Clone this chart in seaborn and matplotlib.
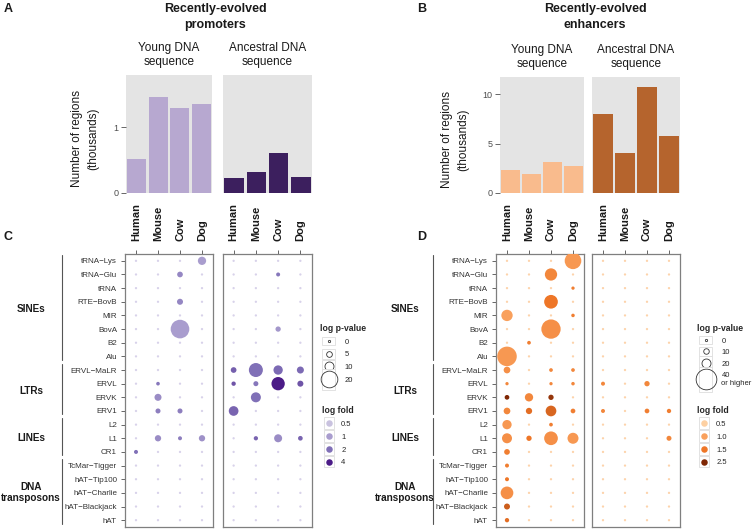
import numpy as np
import pandas as pd
import matplotlib
matplotlib.use("Agg")
import matplotlib.pyplot as plt
import matplotlib.transforms as mtransforms
from matplotlib.colors import LinearSegmentedColormap, LogNorm, Normalize
from matplotlib.lines import Line2D
from matplotlib.patches import Rectangle
from matplotlib.legend_handler import HandlerBase
import seaborn as sns

sns.set_style("white")
plt.rcParams["font.family"] = ["Liberation Sans", "DejaVu Sans"]

# ---------------- data ----------------
species = ["Human", "Mouse", "Cow", "Dog"]

# bar panels (thousands of regions)
prom_young = [0.52, 1.46, 1.29, 1.35]
prom_ancestral = [0.22, 0.32, 0.61, 0.25]
enh_young = [2.30, 1.95, 3.13, 2.76]
enh_ancestral = [7.98, 4.04, 10.78, 5.76]

families = ["tRNA−Lys", "tRNA−Glu", "tRNA", "RTE−BovB", "MIR", "BovA", "B2", "Alu",
            "ERVL−MaLR", "ERVL", "ERVK", "ERV1",
            "L2", "L1", "CR1",
            "TcMar−Tigger", "hAT−Tip100", "hAT−Charlie", "hAT−Blackjack", "hAT"]
group_names = ["SINEs", "LTRs", "LINEs", "DNA\ntransposons"]
group_sizes = [8, 4, 3, 5]

# promoters, young DNA: log p-value / log fold  (rows = families, cols = species)
prom_young_logp = [
    [0, 0, 0, 8.9], [0, 0, 5.0, 0], [0, 0, 0, 0], [0, 0, 5.5, 0], [0, 0, 0, 0],
    [0, 0, 22.5, 0], [0, 0, 0, 0], [0, 0, 0, 0],
    [0, 0, 0, 0], [0, 2.0, 0, 0], [0, 7.0, 0, 0], [0, 4.0, 4.0, 0],
    [0, 0, 0, 0], [0, 5.9, 2.5, 5.9], [2.5, 0, 0, 0],
    [0, 0, 0, 0], [0, 0, 0, 0], [0, 0, 0, 0], [0, 0, 0, 0], [0, 0, 0, 0]]
prom_young_fold = [
    [0.4, 0.4, 0.4, 1.0], [0.4, 0.4, 1.4, 0.4], [0.4, 0.4, 0.4, 0.4], [0.4, 0.4, 1.4, 0.4], [0.4, 0.4, 0.4, 0.4],
    [0.4, 0.4, 1.0, 0.4], [0.4, 0.4, 0.4, 0.4], [0.4, 0.4, 0.4, 0.4],
    [0.4, 0.4, 0.4, 0.4], [0.4, 1.8, 0.4, 0.4], [0.4, 1.3, 0.4, 0.4], [0.4, 1.6, 1.6, 0.4],
    [0.4, 0.4, 0.4, 0.4], [0.4, 1.3, 1.6, 1.2], [2.0, 0.4, 0.4, 0.4],
    [0.4, 0.4, 0.4, 0.4], [0.4, 0.4, 0.4, 0.4], [0.4, 0.4, 0.4, 0.4], [0.4, 0.4, 0.4, 0.4], [0.4, 0.4, 0.4, 0.4]]

# promoters, ancestral DNA
prom_anc_logp = [
    [0, 0, 0, 0], [0, 0, 2.5, 0], [0, 0, 0, 0], [0, 0, 0, 0], [0, 0, 0, 0],
    [0, 0, 4.4, 0], [0, 0, 0, 0], [0, 0, 0, 0],
    [5.0, 16.5, 10.4, 7.0], [3.0, 4.0, 15.6, 5.5], [0, 11.3, 0, 0], [10.9, 0, 0, 0],
    [0, 0, 0, 0], [0, 2.9, 8.5, 3.5], [0, 0, 0, 0],
    [0, 0, 0, 0], [0, 0, 0, 0], [0, 0, 0, 0], [0, 0, 0, 0], [0, 0, 0, 0]]
prom_anc_fold = [
    [0.4, 0.4, 0.4, 0.4], [0.4, 0.4, 1.8, 0.4], [0.4, 0.4, 0.4, 0.4], [0.4, 0.4, 0.4, 0.4], [0.4, 0.4, 0.4, 0.4],
    [0.4, 0.4, 1.1, 0.4], [0.4, 0.4, 0.4, 0.4], [0.4, 0.4, 0.4, 0.4],
    [2.3, 2.0, 2.1, 2.1], [2.5, 1.8, 4.0, 2.5], [0.4, 2.0, 0.4, 0.4], [2.2, 0.4, 0.4, 0.4],
    [0.4, 0.4, 0.4, 0.4], [0.4, 2.2, 1.3, 2.2], [0.4, 0.4, 0.4, 0.4],
    [0.4, 0.4, 0.4, 0.4], [0.4, 0.4, 0.4, 0.4], [0.4, 0.4, 0.4, 0.4], [0.4, 0.4, 0.4, 0.4], [0.4, 0.4, 0.4, 0.4]]

# enhancers, young DNA
enh_young_logp = [
    [0, 0, 0, 33.0], [0, 0, 25.6, 0], [0, 0, 0, 3.1], [0, 0, 28.0, 0], [24.0, 0, 0, 3.8],
    [0, 0, 37.6, 0], [0, 4.4, 0, 0], [38.0, 0, 0, 0],
    [13.4, 0, 4.4, 4.4], [3.1, 0, 3.1, 3.8], [7.5, 18.0, 9.4, 0], [13.4, 12.3, 22.9, 7.5],
    [20.5, 0, 4.4, 0], [21.7, 9.4, 28.0, 23.4], [10.6, 0, 0, 0],
    [5.3, 0, 0, 0], [5.3, 0, 0, 0], [26.3, 0, 0, 0], [11.4, 0, 0, 0], [6.3, 0, 0, 0]]
enh_young_fold = [
    [0.4, 0.4, 0.4, 1.1], [0.4, 0.4, 1.3, 0.4], [0.4, 0.4, 0.4, 1.4], [0.4, 0.4, 1.5, 0.4], [1.0, 0.4, 0.4, 1.4],
    [0.4, 0.4, 1.2, 0.4], [0.4, 1.4, 0.4, 0.4], [1.1, 0.4, 0.4, 0.4],
    [1.2, 0.4, 1.3, 1.3], [1.3, 0.4, 1.3, 1.3], [2.5, 1.3, 2.3, 0.4], [1.3, 1.6, 1.7, 1.4],
    [1.1, 0.4, 1.4, 0.4], [1.2, 1.5, 1.2, 1.1], [1.4, 0.4, 0.4, 0.4],
    [1.4, 0.4, 0.4, 0.4], [1.5, 0.4, 0.4, 0.4], [1.2, 0.4, 0.4, 0.4], [1.8, 0.4, 0.4, 0.4], [1.6, 0.4, 0.4, 0.4]]

# enhancers, ancestral DNA
enh_anc_logp = [
    [0, 0, 0, 0], [0, 0, 0, 0], [0, 0, 0, 0], [0, 0, 0, 0], [0, 0, 0, 0],
    [0, 0, 0, 0], [0, 0, 0, 0], [0, 0, 0, 0],
    [0, 0, 0, 0], [5.3, 0, 9.4, 0], [0, 0, 0, 0], [5.3, 0, 7.5, 6.3],
    [0, 0, 0, 0], [0, 0, 0, 8.4], [0, 0, 0, 0],
    [0, 0, 0, 0], [0, 0, 0, 0], [0, 0, 0, 0], [0, 0, 0, 0], [0, 0, 0, 0]]
enh_anc_fold = [
    [0.4, 0.4, 0.4, 0.4], [0.4, 0.4, 0.4, 0.4], [0.4, 0.4, 0.4, 0.4], [0.4, 0.4, 0.4, 0.4], [0.4, 0.4, 0.4, 0.4],
    [0.4, 0.4, 0.4, 0.4], [0.4, 0.4, 0.4, 0.4], [0.4, 0.4, 0.4, 0.4],
    [0.4, 0.4, 0.4, 0.4], [1.3, 0.4, 1.3, 0.4], [0.4, 0.4, 0.4, 0.4], [1.3, 0.4, 1.4, 1.4],
    [0.4, 0.4, 0.4, 0.4], [0.4, 0.4, 0.4, 1.3], [0.4, 0.4, 0.4, 0.4],
    [0.4, 0.4, 0.4, 0.4], [0.4, 0.4, 0.4, 0.4], [0.4, 0.4, 0.4, 0.4], [0.4, 0.4, 0.4, 0.4], [0.4, 0.4, 0.4, 0.4]]

# legend breaks
prom_p_breaks = [0, 5, 10, 20]
prom_p_labels = ["0", "5", "10", "20"]
prom_fold_breaks = [0.5, 1, 2, 4]
prom_fold_labels = ["0.5", "1", "2", "4"]
enh_p_breaks = [0, 10, 20, 40]
enh_p_labels = ["0", "10", "20", "40\nor higher"]
enh_fold_breaks = [0.5, 1.0, 1.5, 2.5]
enh_fold_labels = ["0.5", "1.0", "1.5", "2.5"]

# ---------------- style ----------------
W, H = 756, 529
PT = 0.72  # px -> pt at 100 dpi
fig = plt.figure(figsize=(W / 100, H / 100), dpi=100)
TXT = "#1a1a1a"
TICK = "#4d4d4d"

prom_light, prom_dark = "#b7a8d0", "#3c1f5e"
enh_light, enh_dark = "#f9bb8d", "#b5642d"

cmapC = LinearSegmentedColormap.from_list("prom", ["#c9c2df", "#a99dce", "#8070b7", "#4b1b87"])
cmapC.set_under("#d8d2ea")
normC = LogNorm(0.5, 4)
cmapD = LinearSegmentedColormap.from_list(
    "enh", [(0, "#fdd0a2"), (0.25, "#f9a05c"), (0.5, "#ee7627"), (1, "#7f2704")])
cmapD.set_under("#fdd3ab")
normD = Normalize(0.5, 2.5)

# size scales (log p-value -> dot diameter in px)
C_v, C_d = [0, 5, 10, 20], [2.3, 5.7, 9.0, 16.7]
D_v, D_d = [0, 10, 20, 40], [2.3, 5.5, 9.0, 20.7]


def diam(v, vp, dp, cap=None):
    if cap is not None:
        v = min(v, cap)
    if v > vp[-1]:
        slope = (dp[-1] - dp[-2]) / (vp[-1] - vp[-2])
        return dp[-1] + slope * (v - vp[-1])
    return float(np.interp(v, vp, dp))


def fax(x0, y0, x1, y1):
    return fig.add_axes([x0 / W, 1 - y1 / H, (x1 - x0) / W, (y1 - y0) / H])


def long_df(logp, fold):
    recs = []
    for fam, lrow, frow in zip(families, logp, fold):
        for sp, lp, fd in zip(species, lrow, frow):
            recs.append((sp, fam, float(lp), float(fd)))
    return pd.DataFrame(recs, columns=["species", "family", "logp", "fold"])


def bars(ax, vals, color, ymax, yticks, show_y, title):
    sns.barplot(x=species, y=vals, color=color, saturation=1, width=0.88,
                linewidth=0, ax=ax)
    ax.set_facecolor("#e4e4e4")
    ax.set_xlim(-0.5, 3.5)
    ax.set_ylim(0, ymax)
    for s in ax.spines.values():
        s.set_visible(False)
    ax.set_xticks([])
    ax.set_xlabel("")
    if show_y:
        ax.set_yticks(yticks)
        ax.tick_params(axis="y", length=3.5, width=0.6, color=TICK, labelsize=6.5,
                       labelcolor=TICK, pad=2, left=True)
    else:
        ax.set_yticks([])
    ax.set_title(title, fontsize=8.5, color=TXT, pad=7, linespacing=1.3)


def dots(ax, logp, fold, cmap, norm, vp, dp, cap, show_y):
    df = long_df(logp, fold)
    sizes = {v: (diam(v, vp, dp, cap) * PT) ** 2 for v in np.unique(df["logp"])}
    sns.scatterplot(data=df, x="species", y="family", size="logp", hue="fold",
                    sizes=sizes, palette=cmap, hue_norm=norm, legend=False,
                    linewidth=0, ax=ax, zorder=3)
    ax.set_xlim(-0.5, 3.5)
    ax.set_ylim(len(families) - 0.5, -0.5)
    ax.set_xlabel("")
    ax.set_ylabel("")
    for s in ax.spines.values():
        s.set_visible(True)
        s.set_color("#7f7f7f")
        s.set_linewidth(0.9)
    ax.xaxis.set_ticks_position("top")
    ax.tick_params(axis="x", top=True, bottom=False, labeltop=True, labelbottom=False,
                   length=3, width=0.6, color=TICK, pad=6, labelsize=8, labelcolor=TXT)
    for lab in ax.get_xticklabels():
        lab.set_rotation(90)
        lab.set_fontweight("bold")
        lab.set_va("bottom")
        lab.set_ha("center")
    if show_y:
        ax.tick_params(axis="y", left=True, length=3.2, width=0.6, color=TICK,
                       labelsize=5.8, labelcolor="#333333", pad=2.5)
    else:
        ax.tick_params(axis="y", left=False, labelleft=False)


def groups(ax, xline, xlabel):
    tr = mtransforms.blended_transform_factory(fig.transFigure, ax.transData)
    start = 0
    for name, n in zip(group_names, group_sizes):
        end = start + n - 1
        ax.plot([xline / W, xline / W], [start - 0.45, end + 0.25], transform=tr,
                color="#555555", lw=0.8, clip_on=False)
        ax.text(xlabel / W, (start + end) / 2, name, transform=tr, ha="center",
                va="center", fontsize=7.2, fontweight="bold", color=TXT, linespacing=1.15)
        start += n


class BoxedKey(HandlerBase):
    """Legend key drawn as a light-grey box with a circle in it (ggplot style)."""

    def __init__(self, box_w, box_h):
        super().__init__()
        self.box_w, self.box_h = box_w, box_h

    def create_artists(self, legend, orig_handle, xdescent, ydescent, width, height,
                       fontsize, trans):
        cx = width / 2 - xdescent
        cy = height / 2 - ydescent
        bw = self.box_w
        bh = max(self.box_h, orig_handle.get_markersize() + 3.0)
        rect = Rectangle((cx - bw / 2, cy - bh / 2), bw, bh, facecolor="#ffffff",
                         edgecolor="#dddddd", lw=0.6, transform=trans)
        circ = Line2D([cx], [cy], marker="o", ls="",
                      mfc=orig_handle.get_markerfacecolor(),
                      mec=orig_handle.get_markeredgecolor(),
                      mew=orig_handle.get_markeredgewidth(),
                      ms=orig_handle.get_markersize(), transform=trans)
        return [rect, circ]


def size_legend(breaks, labels, vp, dp, cap, x, y, spacing):
    handles = [Line2D([], [], marker="o", ls="", mfc="none", mec="#333333", mew=0.6,
                      ms=diam(b, vp, dp, cap) * PT) for b in breaks]
    leg = fig.legend(handles, labels, title="log p-value", loc="upper left",
                     bbox_to_anchor=(x / W, 1 - y / H), frameon=False, fontsize=5.5,
                     title_fontproperties={"weight": "bold", "size": 6.2},
                     alignment="left", handlelength=2.3, handletextpad=0.9,
                     labelspacing=spacing, borderpad=0, borderaxespad=0,
                     handler_map={Line2D: BoxedKey(13 * PT * 1.0, 8.5 * PT)})
    return leg


def fold_legend(breaks, labels, cmap, norm, x, y):
    handles = [Line2D([], [], marker="o", ls="", mfc=cmap(norm(b)), mec="none",
                      ms=6.5 * PT) for b in breaks]
    leg = fig.legend(handles, labels, title="log fold", loc="upper left",
                     bbox_to_anchor=(x / W, 1 - y / H), frameon=False, fontsize=5.5,
                     title_fontproperties={"weight": "bold", "size": 6.2},
                     alignment="left", handlelength=1.8, handletextpad=0.7,
                     labelspacing=0.72, borderpad=0, borderaxespad=0,
                     handler_map={Line2D: BoxedKey(9.5 * PT, 11.5 * PT)})
    return leg


# ---------------- panels A / B (bars) ----------------
axA1 = fax(126, 75, 212, 193)
axA2 = fax(223, 75, 312, 193)
axB1 = fax(500, 77, 584, 193)
axB2 = fax(592, 77, 680, 193)
bars(axA1, prom_young, prom_light, 1.79, [0, 1], True, "Young DNA\nsequence")
bars(axA2, prom_ancestral, prom_dark, 1.79, [0, 1], False, "Ancestral DNA\nsequence")
bars(axB1, enh_young, enh_light, 11.75, [0, 5, 10], True, "Young DNA\nsequence")
bars(axB2, enh_ancestral, enh_dark, 11.75, [0, 5, 10], False, "Ancestral DNA\nsequence")
for ax, xr in ((axA1, 99), (axB1, 469)):
    ax.set_ylabel("Number of regions\n(thousands)", fontsize=8.5, color=TXT, linespacing=1.4)
    bb = ax.get_position()
    ax.yaxis.set_label_coords((xr / W - bb.x0) / bb.width, 0.46)

# ---------------- panels C / D (dots) ----------------
axC1 = fax(125, 254, 213, 527)
axC2 = fax(222.5, 254, 311.5, 527)
axD1 = fax(496, 254, 584, 527)
axD2 = fax(592, 254, 680, 527)
dots(axC1, prom_young_logp, prom_young_fold, cmapC, normC, C_v, C_d, None, True)
dots(axC2, prom_anc_logp, prom_anc_fold, cmapC, normC, C_v, C_d, None, False)
dots(axD1, enh_young_logp, enh_young_fold, cmapD, normD, D_v, D_d, 40, True)
dots(axD2, enh_anc_logp, enh_anc_fold, cmapD, normD, D_v, D_d, 40, False)
groups(axC1, 61.7, 31)
groups(axD1, 433.3, 405)

legs = [size_legend(prom_p_breaks, prom_p_labels, C_v, C_d, None, 320, 324, 0.7),
        fold_legend(prom_fold_breaks, prom_fold_labels, cmapC, normC, 322, 406),
        size_legend(enh_p_breaks, enh_p_labels, D_v, D_d, 40, 697, 324, 0.55),
        fold_legend(enh_fold_breaks, enh_fold_labels, cmapD, normD, 697, 406)]

# ---------------- titles and panel letters ----------------
fig.text(215 / W, 1 - 3 / H, "Recently-evolved\npromoters", ha="center", va="top",
         fontsize=9, fontweight="bold", color=TXT, linespacing=1.45)
fig.text(595 / W, 1 - 3 / H, "Recently-evolved\nenhancers", ha="center", va="top",
         fontsize=9, fontweight="bold", color=TXT, linespacing=1.45)
for lbl, x, y in (("A", 4, 3), ("B", 417, 3), ("C", 4, 231), ("D", 417, 231)):
    fig.text(x / W, 1 - y / H, lbl, ha="left", va="top", fontsize=9,
             fontweight="bold", color=TXT)

fig.savefig("out.png", dpi=100)
